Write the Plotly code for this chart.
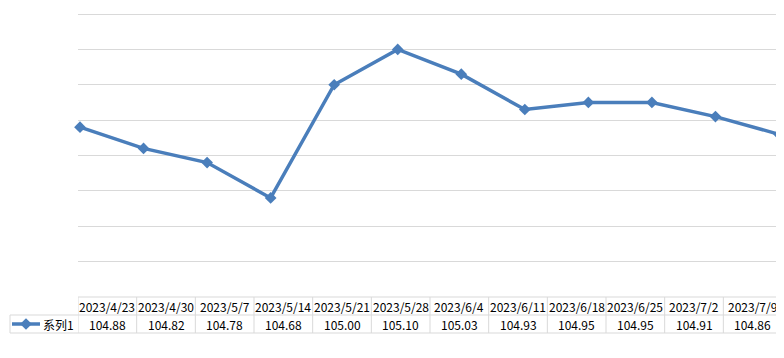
import plotly.graph_objects as go

dates = ["2023/4/23", "2023/4/30", "2023/5/7", "2023/5/14", "2023/5/21", "2023/5/28",
         "2023/6/4", "2023/6/11", "2023/6/18", "2023/6/25", "2023/7/2", "2023/7/9"]
values = [104.88, 104.82, 104.78, 104.68, 105.00, 105.10,
          105.03, 104.93, 104.95, 104.95, 104.91, 104.86]
series_name = "系列1"

# page body has an 8px margin: offset the drawing and keep the page free of scrollbars
OFF = 8
W, H = 784 - OFF, 330


def px(v):
    return v - OFF


# plot area (reference pixel positions)
PL, PR, PT, PB = px(78), px(782), px(14), px(297)
n = len(dates)
px0, px1 = px(80), px(779)
unit = (px1 - px0) / (n - 1)
xr = [-(px0 - PL) / unit, (n - 1) + (PR - px1) / unit]
xdom = [PL / W, PR / W]

# y: 104.4 at bottom (PB), 105.2 at PT; extend top by 3px so its gridline is drawn
ymin, ymax = 104.4, 105.2
yunit = (PB - PT) / (ymax - ymin)
ext = 3
yr = [ymin, ymax + ext / yunit]
ydom = [(H - PB) / H, (H - PT + ext) / H]

BLUE = "#4A7EBB"
GRID = "#D9D9D9"
FONT = "Noto Sans CJK SC"

fig = go.Figure()
fig.add_trace(go.Scatter(
    x=list(range(n)), y=values, mode="lines+markers",
    line=dict(color=BLUE, width=3.5),
    marker=dict(symbol="diamond", size=9, color=BLUE),
    showlegend=False, cliponaxis=False, hoverinfo="x+y",
))

# table rows (reference pixels)
r_top, r_mid, r_bot = px(297), px(315), px(333)
leg_left = px(10)
key_x0, key_x1 = px(12), px(40)
key_y = (r_mid + r_bot) / 2

fig.add_trace(go.Scatter(
    x=[key_x0, key_x1], y=[key_y] * 2, xaxis="x3", yaxis="y3",
    mode="lines", line=dict(color=BLUE, width=3.5), showlegend=False, hoverinfo="skip"))
fig.add_trace(go.Scatter(
    x=[(key_x0 + key_x1) / 2], y=[key_y], xaxis="x3", yaxis="y3",
    mode="markers", marker=dict(symbol="diamond", size=9, color=BLUE),
    showlegend=False, hoverinfo="skip"))

fig.update_layout(
    width=W, height=H,
    margin=dict(l=0, r=0, t=0, b=0),
    paper_bgcolor="white", plot_bgcolor="rgba(0,0,0,0)",
    xaxis=dict(domain=xdom, range=xr, showgrid=False, showticklabels=False,
               zeroline=False, showline=False, ticks=""),
    yaxis=dict(domain=ydom, range=yr, tick0=ymin, dtick=0.1,
               showgrid=True, gridcolor=GRID, gridwidth=1, showticklabels=False,
               zeroline=False, ticks=""),
    xaxis2=dict(domain=xdom, range=[-0.5, n - 0.5], anchor="y3", visible=False),
    xaxis3=dict(domain=[0, 1], range=[0, W], anchor="y3", visible=False),
    yaxis3=dict(domain=[0, 1], range=[H, 0], anchor="x3", visible=False),
    font=dict(family=FONT, size=12, color="#000000"),
    hovermode="closest",
)

line_style = dict(color=GRID, width=1)
shapes = []
shapes.append(dict(type="line", xref="x3", yref="y3", x0=PL, x1=PR, y0=r_top, y1=r_top, line=line_style))
for yy in (r_mid, r_bot):
    shapes.append(dict(type="line", xref="x3", yref="y3", x0=leg_left, x1=PR, y0=yy, y1=yy, line=line_style))
shapes.append(dict(type="line", xref="x3", yref="y3", x0=leg_left, x1=leg_left, y0=r_mid, y1=r_bot, line=line_style))
for i in range(n + 1):
    shapes.append(dict(type="line", xref="x2", yref="y3", x0=i - 0.5, x1=i - 0.5,
                       y0=r_top, y1=r_bot, line=line_style))
shapes.append(dict(type="line", xref="x3", yref="y3", x0=px(782.5), x1=px(782.5),
                   y0=0, y1=H, line=line_style))
fig.update_layout(shapes=shapes)

annotations = []
for i, (d, v) in enumerate(zip(dates, values)):
    annotations.append(dict(x=i, y=(r_top + r_mid) / 2, xref="x2", yref="y3", text=d,
                            showarrow=False, yanchor="middle"))
    annotations.append(dict(x=i, y=(r_mid + r_bot) / 2, xref="x2", yref="y3", text=f"{v:.2f}",
                            showarrow=False, yanchor="middle"))
annotations.append(dict(x=px(43), y=key_y, xref="x3", yref="y3", text=series_name,
                        showarrow=False, xanchor="left", yanchor="middle", xshift=-2))
fig.update_layout(annotations=annotations)

fig.write_html("out.html")
